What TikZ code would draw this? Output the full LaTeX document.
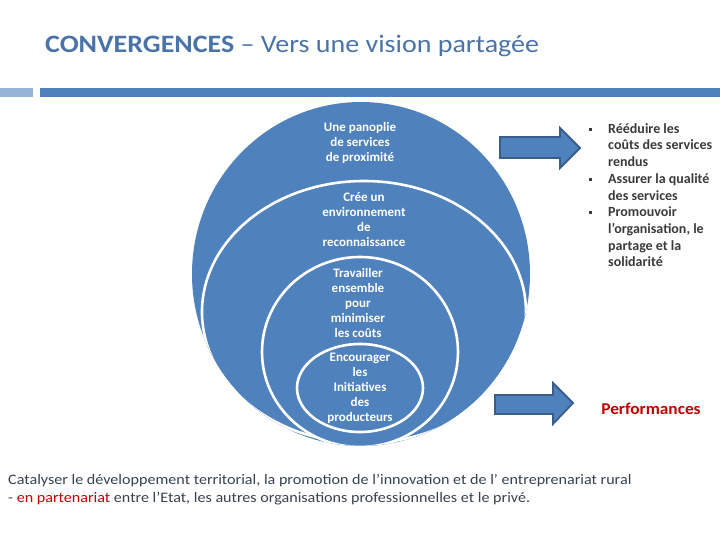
\documentclass[tikz,border=0pt]{standalone}
\usepackage{fontspec}
\setmainfont{Carlito}
\newfontfamily\titlefont[FakeStretch=1.12]{Carlito}
\newfontfamily\bottomfont[FakeStretch=1.11]{Carlito}
\newfontfamily\perffont[FakeStretch=1.05]{Carlito}
\definecolor{cblue}{HTML}{4F81BD}
\definecolor{clight}{HTML}{95B3D7}
\definecolor{ctitle}{HTML}{4A73A8}
\definecolor{cborder}{HTML}{385D8A}
\definecolor{cdark}{HTML}{3A3A3A}
\definecolor{cslate}{HTML}{37414F}
\definecolor{cred}{HTML}{C00000}
\begin{document}
\begin{tikzpicture}[x=1pt,y=-1pt,
  ctext/.style={text=white,font=\bfseries\fontsize{13}{15}\selectfont,align=center,inner sep=0pt},
  rtext/.style={text=cdark,font=\bfseries\fontsize{14}{16.7}\selectfont,align=left,inner sep=0pt,anchor=west},
  blockarrow/.style={fill=cblue,draw=cborder,line width=1.8pt,line join=miter},
  ring/.style={fill=cblue,draw=white,line width=2.6pt}]
\useasboundingbox (0,0) rectangle (720,540);
% title
\node[anchor=base west,inner sep=0pt,text=ctitle,font=\titlefont\fontsize{25}{30}\selectfont] (title) at (45,53) {\textbf{CONVERGENCES} – Vers une vision partagée};
% header bars
\fill[clight] (0,88) rectangle (33,97);
\fill[cblue] (40,88) rectangle (720,97);
% nested circles
\fill[cblue] (361,274) ellipse [x radius=169pt, y radius=172pt];
\begin{scope}
  \clip (361,274) ellipse [x radius=169pt, y radius=172pt];
  \draw[ring] (364,312) ellipse [x radius=162pt, y radius=131pt];
  \draw[ring] (360,352) ellipse [x radius=98pt, y radius=95pt];
\end{scope}
\draw[ring] (360,388) ellipse [x radius=63pt, y radius=44pt];
% circle texts
\node[ctext] (t1) at (360,143) {Une panoplie\\de services\\de proximité};
\node[ctext] (t2) at (364,219.5) {Crée un\\environnement\\de\\reconnaissance};
\node[ctext] (t3) at (358,303) {Travailler\\ensemble\\pour\\minimiser\\les coûts};
\node[ctext] (t4) at (360,388.5) {Encourager\\les\\Initiatives\\des\\producteurs};
% arrows
\draw[blockarrow] (500,137) -- (560,137) -- (560,128) -- (580,148) -- (560,168) -- (560,158) -- (500,158) -- cycle;
\draw[blockarrow] (495,395) -- (553,395) -- (553,383) -- (573,403) -- (553,424) -- (553,414) -- (495,414) -- cycle;
% bullet list
\node[rtext] (b1) at (608,145) {Rééduire les\\coûts des services\\rendus};
\node[rtext] (b2) at (608,187) {Assurer la qualité\\des services};
\node[rtext] (b3) at (608,237) {Promouvoir\\l’organisation, le\\partage et la\\solidarité};
\fill[cdark] (588.5,128.5) rectangle (591.5,131.5);
\fill[cdark] (588.5,178.5) rectangle (591.5,181.5);
\fill[cdark] (588.5,211.5) rectangle (591.5,214.5);
% performances
\node[text=cred,font=\perffont\bfseries\fontsize{16.5}{19}\selectfont,inner sep=0pt] (perf) at (651,409) {Performances};
% bottom text
\node[anchor=west,align=left,inner sep=0pt,text=cslate,font=\bottomfont\fontsize{14.5}{18}\selectfont] (bottom) at (8,490) {Catalyser le développement territorial, la promotion de l’innovation et de l’ entreprenariat rural\\- \textcolor{cred}{en partenariat} entre l’Etat, les autres organisations professionnelles et le privé.};
\end{tikzpicture}
\end{document}
